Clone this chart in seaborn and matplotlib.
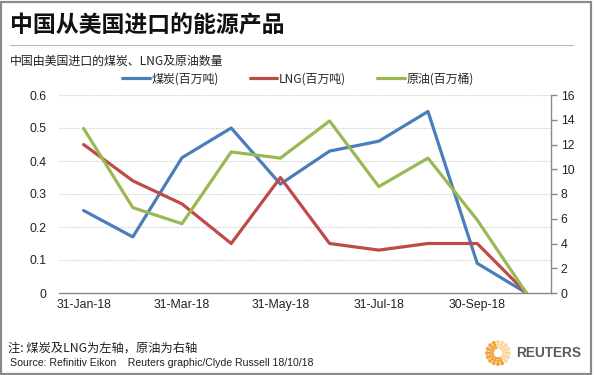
import numpy as np
import pandas as pd
import matplotlib
matplotlib.use("Agg")
import matplotlib.pyplot as plt
import seaborn as sns
from matplotlib.patches import Rectangle
from matplotlib.lines import Line2D

months = ["31-Jan-18", "28-Feb-18", "31-Mar-18", "30-Apr-18", "31-May-18",
          "30-Jun-18", "31-Jul-18", "31-Aug-18", "30-Sep-18", "31-Oct-18"]
coal = [0.25, 0.17, 0.41, 0.50, 0.33, 0.43, 0.46, 0.55, 0.09, 0.0]
lng = [0.45, 0.34, 0.27, 0.15, 0.35, 0.15, 0.13, 0.15, 0.15, 0.0]
crude = [13.3, 6.9, 5.6, 11.4, 10.9, 13.9, 8.6, 10.9, 5.9, 0.0]
label_months = ["31-Jan-18", "31-Mar-18", "31-May-18", "31-Jul-18", "30-Sep-18"]
left_ticks = [0, 0.1, 0.2, 0.3, 0.4, 0.5, 0.6]
left_labels = ["0", "0.1", "0.2", "0.3", "0.4", "0.5", "0.6"]
right_ticks = [0, 2, 4, 6, 8, 10, 12, 14, 16]
names = ["煤炭(百万吨)", "LNG(百万吨)", "原油(百万桶)"]

sns.set_style("white")
CJK = ["Noto Sans CJK SC", "DejaVu Sans"]
LAT = ["Liberation Sans", "DejaVu Sans"]
plt.rcParams["font.family"] = LAT

BLUE = "#4A7EBB"
RED = "#BE4B48"
GREEN = "#98B954"
GRAY = "#888888"

df = pd.DataFrame({"idx": np.arange(len(months)), "month": months,
                   "coal": coal, "lng": lng, "crude": crude})

fig = plt.figure(figsize=(5.94, 3.75), dpi=100)
W, H = 594, 375
ax = fig.add_axes([59 / W, 1 - 293 / H, (551 - 59) / W, (293 - 95) / H])
ax2 = ax.twinx()

lw = 2.3
sns.lineplot(data=df, x="idx", y="coal", ax=ax, color=BLUE, lw=lw, legend=False)
sns.lineplot(data=df, x="idx", y="lng", ax=ax, color=RED, lw=lw, legend=False)
sns.lineplot(data=df, x="idx", y="crude", ax=ax2, color=GREEN, lw=lw, legend=False)

n = len(months)
for a in (ax, ax2):
    a.set_xlim(-0.5, n - 0.5)
    a.set_xlabel("")
    a.set_ylabel("")
    for s in a.spines.values():
        s.set_visible(False)
ax.set_ylim(0, 0.6)
ax2.set_ylim(0, 16)

# grid
for v in left_ticks[1:]:
    ax.axhline(v, color="#C8C8C8", lw=0.8, ls=(0, (1, 1.2)), zorder=0)

# x axis
ax.spines["bottom"].set_visible(True)
ax.spines["bottom"].set_color(GRAY)
ax.spines["bottom"].set_linewidth(1.0)
pos = [months.index(m) for m in label_months]
ax.set_xticks(pos)
ax.set_xticklabels(label_months, fontsize=8.8, color="#222222")
ax.set_xticks(np.arange(-0.5, n, 1.0), minor=True)
ax.tick_params(axis="x", which="major", length=0, pad=4)
ax.tick_params(axis="x", which="minor", length=4, color=GRAY, width=1.0, direction="out")

# left y
ax.set_yticks(left_ticks)
ax.set_yticklabels(left_labels, fontsize=8.8, color="#222222")
ax.tick_params(axis="y", length=0, pad=9)

# right y
ax2.spines["right"].set_visible(True)
ax2.spines["right"].set_color(GRAY)
ax2.spines["right"].set_linewidth(1.0)
ax2.set_yticks(right_ticks)
ax2.set_yticklabels([str(t) for t in right_ticks], fontsize=8.8, color="#222222")
ax2.tick_params(axis="y", length=4, color=GRAY, width=1.0, direction="out", pad=3)
ax2.tick_params(axis="x", length=0, labelbottom=False)

# legend
handles = [Line2D([], [], color=c, lw=2.3) for c in (BLUE, RED, GREEN)]
fig.legend(handles, names, loc="center", bbox_to_anchor=(298 / W, 1 - 79 / H), ncol=3,
           frameon=False, prop={"family": CJK, "size": 8.6}, handlelength=2.3,
           handletextpad=0.15, columnspacing=2.6, borderpad=0)

# titles
fig.text(10 / W, 1 - 26 / H, "中国从美国进口的能源产品", family=CJK, fontsize=16.5,
         fontweight="bold", va="center", ha="left", color="#111111")
fig.add_artist(Line2D([10 / W, 573 / W], [1 - 45 / H, 1 - 45 / H], color="#BBBBBB", lw=0.8))
fig.text(10 / W, 1 - 61 / H, "中国由美国进口的煤炭、LNG及原油数量", family=CJK, fontsize=8.6,
         va="center", ha="left", color="#222222")

# footer
fig.text(8 / W, 1 - 348 / H, "注: 煤炭及LNG为左轴，原油为右轴", family=CJK, fontsize=8.8,
         va="center", ha="left", color="#222222")
fig.text(10 / W, 1 - 363 / H, "Source: Refinitiv Eikon    Reuters graphic/Clyde Russell 18/10/18",
         family=LAT, fontsize=7.6, va="center", ha="left", color="#222222")

# Reuters logo
lax = fig.add_axes([485 / W, 1 - 366 / H, 26 / W, 26 / H])
lax.set_xlim(-1, 1)
lax.set_ylim(-1, 1)
lax.set_aspect("equal")
lax.axis("off")
for r, sz in [(0.85, 8), (0.62, 6), (0.42, 3.5)]:
    k = 16
    ang = np.linspace(0, 2 * np.pi, k, endpoint=False)
    cols = ["#F4A23A" if (np.cos(a) + 0.3 * np.sin(a)) < 0.3 else "#FAD9A0" for a in ang]
    lax.scatter(r * np.cos(ang), r * np.sin(ang), s=sz, c=cols, linewidths=0)
fig.text(516 / W, 1 - 353 / H, "REUTERS", family=LAT, fontsize=9.8, fontweight="bold",
         color="#5A5A5A", va="center", ha="left")

# border
fig.add_artist(Rectangle((1 / W, 1 / H), 1 - 4 / W, 1 - 3 / H, transform=fig.transFigure,
                         fill=False, ec="#8A8A8A", lw=1.6))

fig.savefig("out.png", dpi=100, facecolor="white")
